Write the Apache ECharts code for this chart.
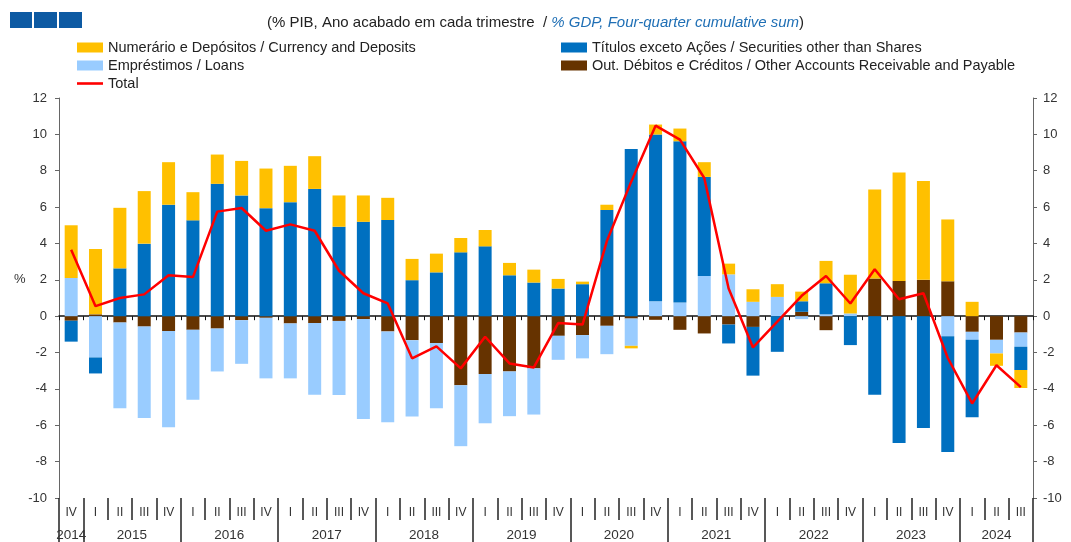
<!DOCTYPE html>
<html>
<head>
<meta charset="utf-8">
<script src="https://cdn.jsdelivr.net/npm/echarts@6/dist/echarts.min.js"></script>
<style>
  html, body { margin: 0; padding: 0; background: #fff; }
  #chart { width: 1071px; height: 542px; }
</style>
</head>
<body>
<div id="chart"></div>
<script>
var categories = [
    '2014 IV',
    '2015 I', '2015 II', '2015 III', '2015 IV',
    '2016 I', '2016 II', '2016 III', '2016 IV',
    '2017 I', '2017 II', '2017 III', '2017 IV',
    '2018 I', '2018 II', '2018 III', '2018 IV',
    '2019 I', '2019 II', '2019 III', '2019 IV',
    '2020 I', '2020 II', '2020 III', '2020 IV',
    '2021 I', '2021 II', '2021 III', '2021 IV',
    '2022 I', '2022 II', '2022 III', '2022 IV',
    '2023 I', '2023 II', '2023 III', '2023 IV',
    '2024 I', '2024 II', '2024 III'
];

// % do PIB
var currency = [2.9, 3.59, 3.33, 2.89, 2.34, 1.55, 1.61, 1.9, 2.18, 2.0, 1.8, 1.72, 1.45,
    1.22, 1.17, 1.03, 0.79, 0.9, 0.68, 0.71, 0.53, 0.14, 0.29, -0.14, 0.55, 0.7, 0.81,
    0.59, 0.69, 0.7, 0.53, 1.23, 2.13, 4.9, 5.96, 5.44, 3.4, 0.79, -0.68, -0.99];
var securities = [-1.15, -0.88, 2.63, 3.99, 6.13, 5.27, 7.28, 6.64, 5.94, 6.27, 7.0, 4.92,
    5.19, 5.29, 1.98, 2.41, 3.51, 3.84, 2.25, 1.85, 1.52, 1.76, 5.84, 9.2, 9.17, 8.87, 5.45,
    -1.04, -2.68, -1.96, 0.58, 1.71, -1.59, -4.32, -6.97, -6.15, -6.37, -4.26, 0, -1.28];
var loans = [2.1, -2.27, -4.72, -5.03, -5.29, -3.84, -2.36, -2.4, -3.33, -3.02, -3.94, -4.08,
    -5.49, -4.99, -4.2, -3.59, -3.35, -2.71, -2.46, -2.54, -1.32, -1.28, -1.56, -1.5, 0.82,
    0.75, 2.21, 2.3, 0.79, 1.06, -0.16, 0.1, 0.15, 0, 0, 0, -1.1, -0.44, -0.75, -0.78];
var otherAccounts = [-0.25, 0.1, -0.35, -0.57, -0.82, -0.75, -0.68, -0.22, -0.09, -0.4, -0.38,
    -0.26, -0.16, -0.84, -1.32, -1.48, -3.8, -3.18, -3.04, -2.87, -1.08, -1.04, -0.53, -0.13,
    -0.2, -0.75, -0.95, -0.46, -0.59, 0, 0.24, -0.77, 0, 2.07, 1.94, 2.0, 1.92, -0.86, -1.3, -0.9];
var total = [3.65, 0.55, 1.0, 1.2, 2.25, 2.15, 5.75, 5.95, 4.7, 5.05, 4.7, 2.5, 1.26, 0.7,
    -2.32, -1.66, -2.87, -1.13, -2.6, -2.82, -0.38, -0.46, 4.13, 7.4, 10.48, 9.71, 7.6, 1.52,
    -1.72, -0.3, 1.12, 2.21, 0.7, 2.58, 0.93, 1.26, -2.3, -4.8, -2.7, -3.9];

var names = {
    currency: 'Numerário e Depósitos / Currency and Deposits',
    securities: 'Títulos exceto Ações / Securities other than Shares',
    loans: 'Empréstimos / Loans',
    other: 'Out. Débitos e Créditos / Other Accounts Receivable and Payable',
    total: 'Total'
};

var FONT = '"Liberation Sans", Arial, sans-serif';

// onde fica o rótulo de cada ano (no meio dos seus trimestres)
var yearSpan = {};
categories.forEach(function (c, i) {
    var y = c.split(' ')[0];
    if (!yearSpan[y]) yearSpan[y] = [i, i];
    yearSpan[y][1] = i;
});
var yearLabelAt = {};
Object.keys(yearSpan).forEach(function (y) {
    var mid = (yearSpan[y][0] + yearSpan[y][1]) / 2;
    yearLabelAt[Math.floor(mid)] = { year: y, shift: mid % 1 !== 0 };
});

var chart = echarts.init(document.getElementById('chart'));

function barSeries(name, data, color) {
    return {
        name: name,
        type: 'bar',
        stack: 'all',
        data: data,
        barWidth: 13,
        itemStyle: { color: color },
        emphasis: { disabled: true }
    };
}

var legendText = { fontSize: 14.5, color: '#222', fontFamily: FONT };

var option = {
    animation: false,
    textStyle: { fontFamily: FONT },
    title: {
        text: '{a|(% PIB, Ano acabado em cada trimestre  / }{b|% GDP, Four-quarter cumulative sum}{a|)}',
        left: 'center',
        top: 10,
        textStyle: {
            rich: {
                a: { fontSize: 15, fontWeight: 'normal', color: '#222', fontFamily: FONT },
                b: { fontSize: 15, fontWeight: 'normal', color: '#1f6fb5', fontStyle: 'italic', fontFamily: FONT }
            }
        }
    },
    legend: [{
        orient: 'vertical',
        left: 72,
        top: 35,
        itemWidth: 26,
        itemHeight: 10,
        itemGap: 3,
        textStyle: legendText,
        data: [
            { name: names.currency, icon: 'rect' },
            { name: names.loans, icon: 'rect' },
            { name: names.total, icon: 'path://M0 0H30V3H0Z' }
        ]
    }, {
        orient: 'vertical',
        left: 556,
        top: 35,
        itemWidth: 26,
        itemHeight: 10,
        itemGap: 3,
        textStyle: legendText,
        data: [
            { name: names.securities, icon: 'rect' },
            { name: names.other, icon: 'rect' }
        ]
    }],
    grid: { left: 59, right: 38, top: 98, bottom: 44 },
    xAxis: [{
        // linha do zero
        type: 'category',
        data: categories,
        boundaryGap: true,
        axisLine: { onZero: true, lineStyle: { color: '#111', width: 1.5 } },
        axisTick: { show: true, interval: 0, length: 4, lineStyle: { color: '#111' } },
        axisLabel: { show: false }
    }, {
        // trimestres
        type: 'category',
        data: categories,
        position: 'bottom',
        axisLine: { show: false, onZero: false },
        axisTick: { show: true, interval: 0, length: 22, lineStyle: { color: '#222', width: 1.5 } },
        axisLabel: {
            interval: 0,
            margin: 9,
            fontSize: 12,
            color: '#333',
            formatter: function (v) { return v.split(' ')[1]; }
        }
    }, {
        // anos
        type: 'category',
        data: categories,
        position: 'bottom',
        axisLine: { show: false, onZero: false },
        axisTick: {
            show: true,
            length: 44,
            lineStyle: { color: '#222', width: 1.5 },
            interval: function (i, v) {
                return i === 0 || (v && v.split(' ')[1] === 'I');
            }
        },
        axisLabel: {
            margin: 30,
            color: '#333',
            interval: function (i) { return !!yearLabelAt[i]; },
            formatter: function (v, i) {
                var y = yearLabelAt[i];
                if (!y) return '';
                return (y.shift ? '{s|' : '{n|') + y.year + '}';
            },
            rich: {
                n: { fontSize: 13.5, color: '#333', fontFamily: FONT },
                s: { fontSize: 13.5, color: '#333', fontFamily: FONT, padding: [0, 0, 0, 24] }
            }
        }
    }],
    yAxis: [{
        type: 'value',
        min: -10,
        max: 12,
        interval: 2,
        position: 'left',
        axisLine: { show: true, lineStyle: { color: '#666' } },
        axisTick: { show: true, length: 4, lineStyle: { color: '#666' } },
        axisLabel: { fontSize: 13, color: '#333', margin: 12 },
        splitLine: { show: false }
    }, {
        type: 'value',
        min: -10,
        max: 12,
        interval: 2,
        position: 'right',
        axisLine: { show: true, lineStyle: { color: '#666' } },
        axisTick: { show: true, length: 4, lineStyle: { color: '#666' } },
        axisLabel: { fontSize: 13, color: '#333', margin: 10 },
        splitLine: { show: false }
    }],
    graphic: [
        { type: 'rect', left: 10, top: 12, shape: { width: 22, height: 16 }, style: { fill: '#0d5aa3' } },
        { type: 'rect', left: 34, top: 12, shape: { width: 23, height: 16 }, style: { fill: '#0d5aa3' } },
        { type: 'rect', left: 59, top: 12, shape: { width: 23, height: 16 }, style: { fill: '#0d5aa3' } },
        { type: 'text', left: 14, top: 273, style: { text: '%', font: '13px ' + FONT, fill: '#333' } }
    ],
    series: [
        barSeries(names.other, otherAccounts, '#663300'),
        barSeries(names.loans, loans, '#99ccff'),
        barSeries(names.securities, securities, '#0070c0'),
        barSeries(names.currency, currency, '#ffc000'),
        {
            name: names.total,
            type: 'line',
            data: total,
            symbol: 'none',
            z: 5,
            lineStyle: { color: '#ff0000', width: 2.5 },
            itemStyle: { color: '#ff0000' },
            emphasis: { disabled: true }
        }
    ]
};

chart.setOption(option);
</script>
</body>
</html>
